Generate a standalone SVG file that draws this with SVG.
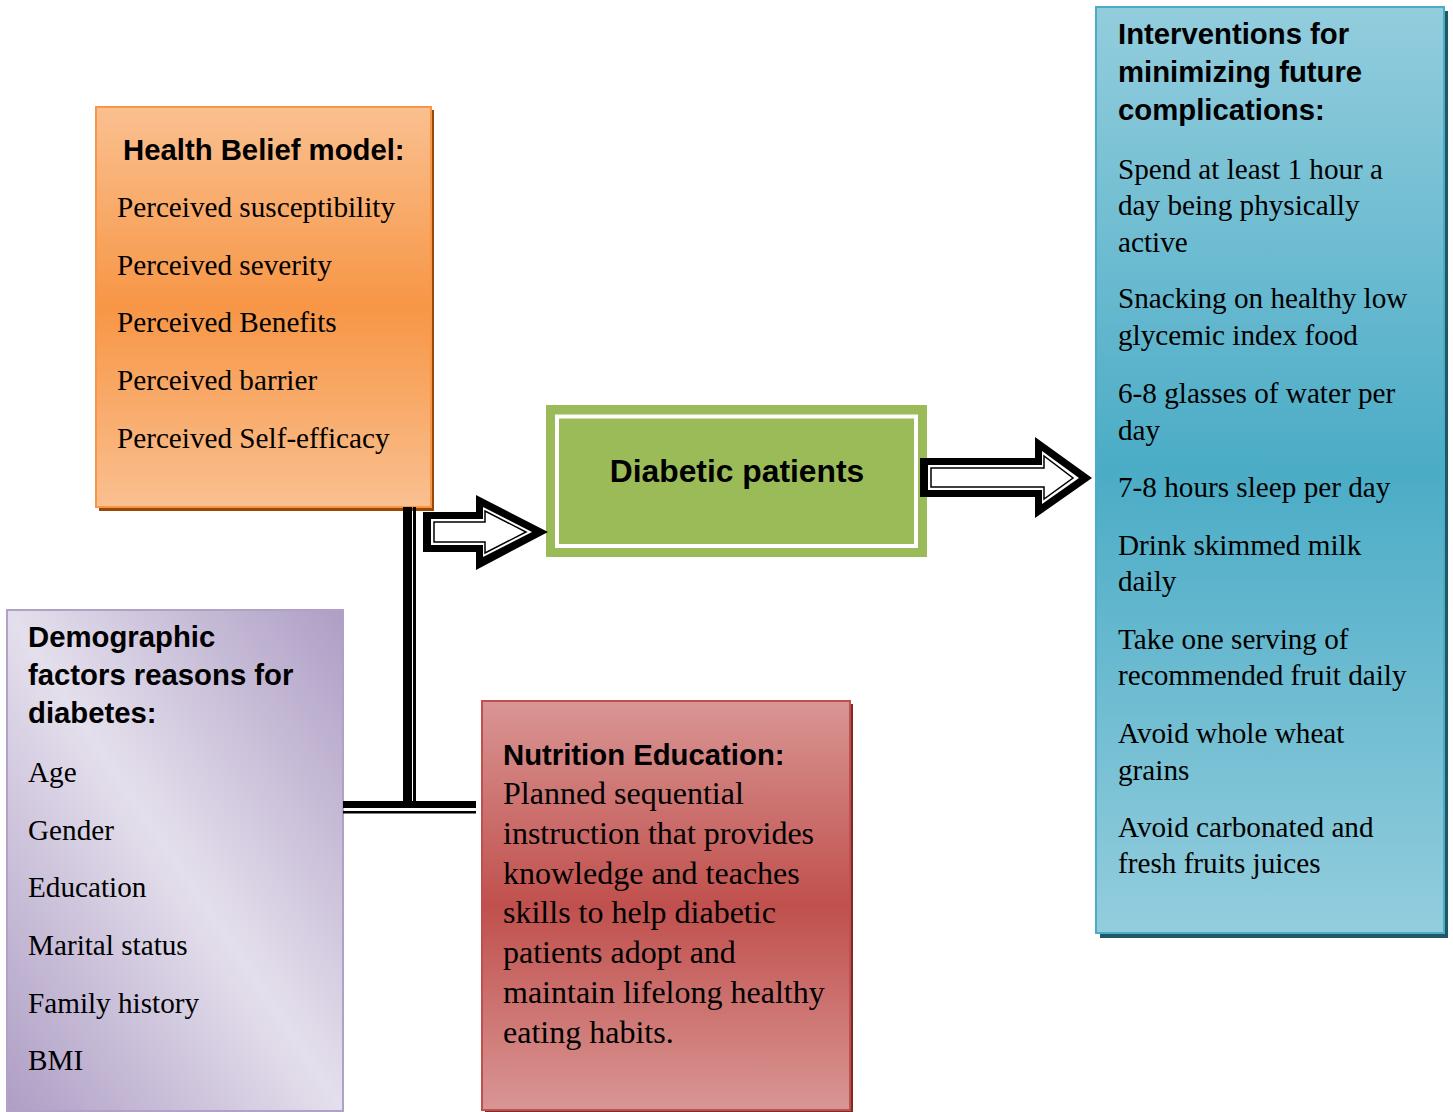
<svg xmlns="http://www.w3.org/2000/svg" width="1453" height="1112" viewBox="0 0 1453 1112">
  <defs>
    <linearGradient id="gOrange" x1="0" y1="0" x2="0" y2="1">
      <stop offset="0" stop-color="#fac090"/>
      <stop offset="0.5" stop-color="#f79646"/>
      <stop offset="1" stop-color="#fac090"/>
    </linearGradient>
    <linearGradient id="gRed" x1="0" y1="0" x2="0" y2="1">
      <stop offset="0" stop-color="#d99694"/>
      <stop offset="0.5" stop-color="#c0504d"/>
      <stop offset="1" stop-color="#d99694"/>
    </linearGradient>
    <linearGradient id="gBlue" x1="0" y1="0" x2="0" y2="1">
      <stop offset="0" stop-color="#93cddd"/>
      <stop offset="0.5" stop-color="#4bacc6"/>
      <stop offset="1" stop-color="#93cddd"/>
    </linearGradient>
    <linearGradient id="gPurple" x1="1" y1="0" x2="0" y2="1">
      <stop offset="0" stop-color="#ae9ec5"/>
      <stop offset="0.5" stop-color="#e4dfec"/>
      <stop offset="1" stop-color="#ae9ec5"/>
    </linearGradient>
  </defs>
  <style>
    .hd { font-family: "Liberation Sans", Arial, sans-serif; font-weight: bold; font-size: 29.3px; fill: #000; }
    .tx { font-family: "Liberation Serif", "Times New Roman", serif; font-size: 29.2px; fill: #000; }
    .tl { font-family: "Liberation Serif", "Times New Roman", serif; font-size: 32px; fill: #000; }
    .big { font-family: "Liberation Sans", Arial, sans-serif; font-weight: bold; font-size: 31.8px; fill: #000; }
  </style>

  <!-- Health Belief model -->
  <g id="health-belief">
    <rect x="99" y="110" width="335" height="401" fill="#984807"/>
    <rect x="96" y="107" width="335" height="400" fill="url(#gOrange)" stroke="#f79646" stroke-width="2"/>
    <text class="hd" x="123" y="160">Health Belief model:</text>
    <text class="tx" x="117" y="217">Perceived susceptibility</text>
    <text class="tx" x="117" y="275">Perceived severity</text>
    <text class="tx" x="117" y="332">Perceived Benefits</text>
    <text class="tx" x="117" y="390">Perceived barrier</text>
    <text class="tx" x="117" y="448">Perceived Self-efficacy</text>
  </g>

  <!-- Demographic factors -->
  <g id="demographic">
    <rect x="7" y="610" width="336" height="501" fill="url(#gPurple)" stroke="#b2a1c7" stroke-width="2"/>
    <text class="hd" x="28" y="647">Demographic</text>
    <text class="hd" x="28" y="685">factors reasons for</text>
    <text class="hd" x="28" y="723">diabetes:</text>
    <text class="tx" x="28" y="782">Age</text>
    <text class="tx" x="28" y="840">Gender</text>
    <text class="tx" x="28" y="897">Education</text>
    <text class="tx" x="28" y="955">Marital status</text>
    <text class="tx" x="28" y="1013">Family history</text>
    <text class="tx" x="28" y="1070">BMI</text>
  </g>

  <!-- Nutrition Education -->
  <g id="nutrition">
    <rect x="485" y="704" width="368" height="409" fill="#7f2a28"/>
    <rect x="482" y="701" width="368" height="409" fill="url(#gRed)" stroke="#c0504d" stroke-width="2"/>
    <text class="hd" x="503" y="765">Nutrition Education:</text>
    <text class="tl" x="503" y="804">Planned sequential</text>
    <text class="tl" x="503" y="844">instruction that provides</text>
    <text class="tl" x="503" y="884">knowledge and teaches</text>
    <text class="tl" x="503" y="923">skills to help diabetic</text>
    <text class="tl" x="503" y="963">patients adopt and</text>
    <text class="tl" x="503" y="1003">maintain lifelong healthy</text>
    <text class="tl" x="503" y="1043">eating habits.</text>
  </g>

  <!-- Diabetic patients -->
  <g id="diabetic-patients">
    <rect x="546" y="405" width="381" height="152" fill="#9bbb59"/>
    <rect x="557" y="416.5" width="359" height="129.5" fill="none" stroke="#fff" stroke-width="4"/>
    <text class="big" x="737" y="482" text-anchor="middle">Diabetic patients</text>
  </g>

  <!-- Interventions -->
  <g id="interventions">
    <rect x="1100" y="11" width="348" height="927" fill="#215868"/>
    <rect x="1096" y="7" width="348" height="926" fill="url(#gBlue)" stroke="#4bacc6" stroke-width="2"/>
    <text class="hd" x="1118" y="44">Interventions for</text>
    <text class="hd" x="1118" y="82">minimizing future</text>
    <text class="hd" x="1118" y="120">complications:</text>
    <text class="tx" x="1118" y="179">Spend at least 1 hour a</text>
    <text class="tx" x="1118" y="215">day being physically</text>
    <text class="tx" x="1118" y="252">active</text>
    <text class="tx" x="1118" y="308">Snacking on healthy low</text>
    <text class="tx" x="1118" y="345">glycemic index food</text>
    <text class="tx" x="1118" y="403">6-8 glasses of water per</text>
    <text class="tx" x="1118" y="440">day</text>
    <text class="tx" x="1118" y="497">7-8 hours sleep per day</text>
    <text class="tx" x="1118" y="555">Drink skimmed milk</text>
    <text class="tx" x="1118" y="591">daily</text>
    <text class="tx" x="1118" y="649">Take one serving of</text>
    <text class="tx" x="1118" y="685">recommended fruit daily</text>
    <text class="tx" x="1118" y="743">Avoid whole wheat</text>
    <text class="tx" x="1118" y="780">grains</text>
    <text class="tx" x="1118" y="837">Avoid carbonated and</text>
    <text class="tx" x="1118" y="873">fresh fruits juices</text>
  </g>

  <!-- Connectors: double lines and block arrows -->
  <g id="connectors">
    <!-- vertical double line under the Health Belief box -->
    <rect x="403" y="507" width="9" height="301" fill="#000"/>
    <rect x="413" y="507" width="3" height="294" fill="#000"/>
    <!-- horizontal double line between Demographic and Nutrition boxes -->
    <rect x="343" y="801" width="133" height="7" fill="#000"/>
    <rect x="343" y="811" width="133" height="2.5" fill="#000"/>

    <!-- block arrow into Diabetic patients -->
    <polygon points="423,512 476,512 476,495 548,532 476,570 476,552 423,552" fill="#000"/>
    <polygon points="431,519 483,519 483,507 532,532 483,557 483,545 431,545" fill="#fff"/>
    <polygon points="434,522 485,522 485,511 526,532 485,553 485,542 434,542" fill="#fff" stroke="#000" stroke-width="1.5"/>

    <!-- block arrow into Interventions -->
    <polygon points="920,458 1035,458 1035,437 1092,478 1035,518 1035,497 920,497" fill="#000"/>
    <polygon points="928,465 1042,465 1042,451 1079,478 1042,504 1042,490 928,490" fill="#fff"/>
    <polygon points="931,468 1044,468 1044,456 1073,478 1044,499 1044,487 931,487" fill="#fff" stroke="#000" stroke-width="1.5"/>
  </g>
</svg>
